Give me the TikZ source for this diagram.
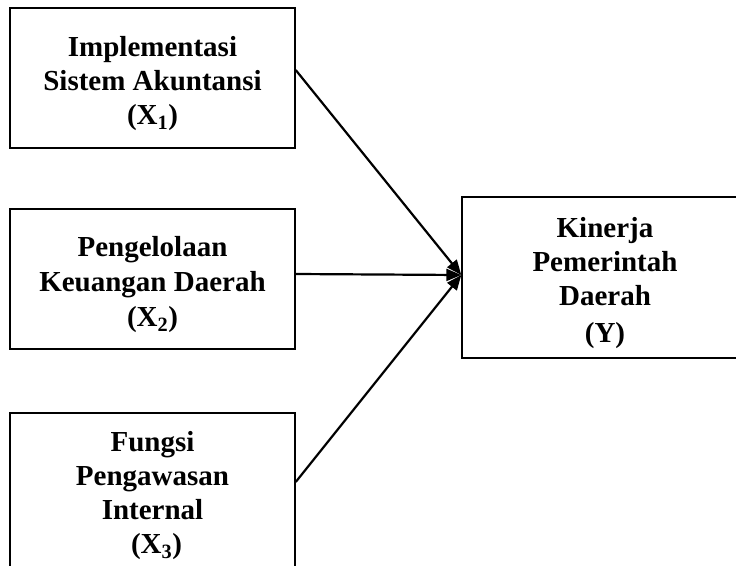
\documentclass[tikz,border=0pt]{standalone}
\usepackage{fontspec}
\setmainfont{Liberation Serif}
\usetikzlibrary{arrows.meta}
\newcommand{\toppad}{\rule{0pt}{32pt}}
\begin{document}
\begin{tikzpicture}[x=1pt, y=-1pt,
        varbox/.style={draw, line width=1.4pt, align=center, inner sep=0pt,
            minimum width=285pt, font=\bfseries\fontsize{29}{34}\selectfont},
        link/.style={line width=2.2pt, -{Triangle[length=15pt, width=12pt]}}]
        \useasboundingbox (0, 0) rectangle (736, 565);
        \clip (0, 0) rectangle (736, 565);

        % independent variables
        \node[varbox, minimum height=140pt] (x1) at (152.5, 78) {\toppad Implementasi\\Sistem Akuntansi\\(X\textsubscript{1})};
        \node[varbox, minimum height=140pt] (x2) at (152.5, 279) {\toppad Pengelolaan\\[1pt]Keuangan Daerah\\[1pt](X\textsubscript{2})};
        \node[varbox, minimum height=154pt] (x3) at (152.5, 490) {\toppad Fungsi\\Pengawasan\\Internal\\\hphantom{i}(X\textsubscript{3})};

        % dependent variable
        \node[varbox, minimum width=286pt, minimum height=161pt] (y) at (605, 277.5) {\toppad Kinerja\\Pemerintah\\Daerah\\[3pt](Y)};

        \coordinate (tip) at ([yshift=2.5pt]y.west);
        \draw[link] ([yshift=8pt]x1.east) -- (tip);
        \draw[link] ([yshift=5pt]x2.east) -- (tip);
        \draw[link] ([yshift=8pt]x3.east) -- (tip);
    \end{tikzpicture}
\end{document}
